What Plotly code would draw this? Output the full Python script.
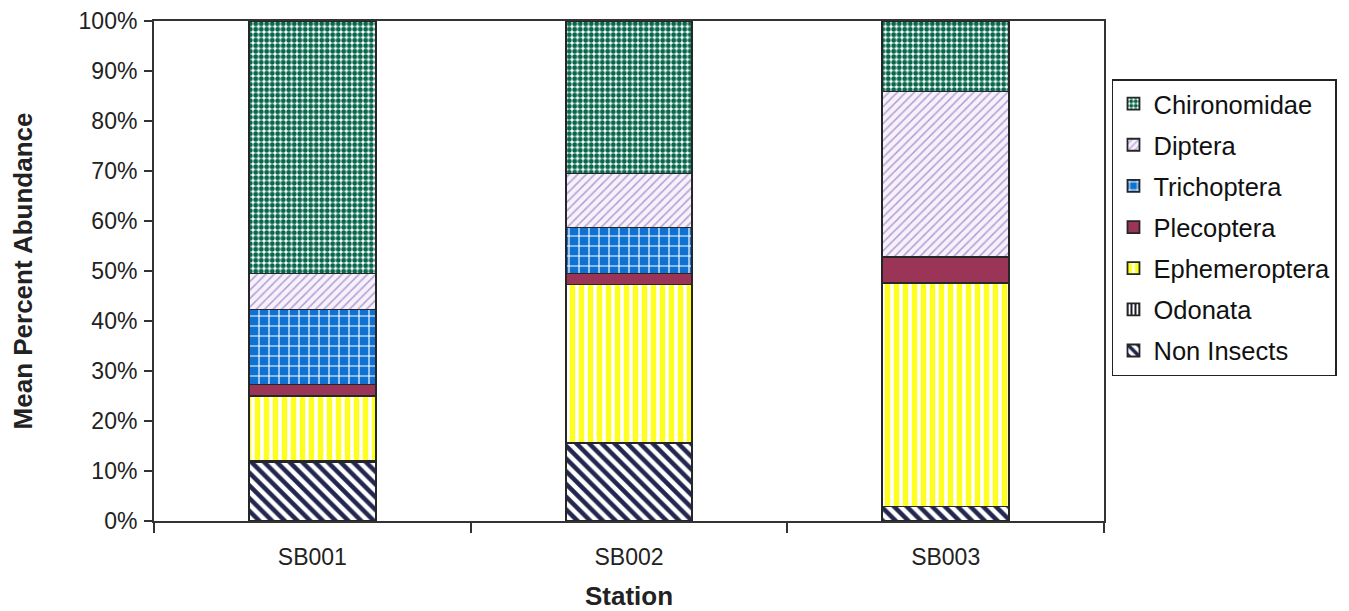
import plotly.graph_objects as go

stations = ["SB001", "SB002", "SB003"]
groups = ["Non Insects", "Odonata", "Ephemeroptera", "Plecoptera", "Trichoptera", "Diptera", "Chironomidae"]
non_insects = [11.8, 15.6, 2.9]
odonata = [0.2, 0.1, 0.0]
ephemeroptera = [13.0, 31.6, 44.7]
plecoptera = [2.3, 2.2, 5.2]
trichoptera = [15.0, 9.2, 0.0]
diptera = [7.2, 10.8, 33.1]
chironomidae = [50.5, 30.5, 14.1]
values = [non_insects, odonata, ephemeroptera, plecoptera, trichoptera, diptera, chironomidae]
yticks = list(range(0, 101, 10))

styles = {
    "Non Insects": dict(shape="\\", bgcolor="white", fgcolor="#23264f", size=9, solidity=0.5),
    "Odonata": dict(shape="|", bgcolor="white", fgcolor="#1a1a2a", size=5, solidity=0.5),
    "Ephemeroptera": dict(shape="|", bgcolor="white", fgcolor="#ffff1e", size=9, solidity=0.6),
    "Plecoptera": None,
    "Trichoptera": dict(shape="+", bgcolor="#0f72d3", fgcolor="white", size=10, solidity=0.22),
    "Diptera": dict(shape="/", bgcolor="#f6f1fa", fgcolor="#b29dd3", size=6, solidity=0.25),
    "Chironomidae": dict(shape=".", bgcolor="white", fgcolor="#07674b", size=5.5, solidity=0.62),
}

fig = go.Figure()
n = len(groups)
for i, (name, vals) in enumerate(zip(groups, values)):
    st = styles[name]
    marker = dict(line=dict(color="#262626", width=1.8))
    if st is None:
        marker["color"] = "#9a3557"
    else:
        marker["color"] = st["bgcolor"]
        marker["pattern"] = dict(shape=st["shape"], bgcolor=st["bgcolor"], fgcolor=st["fgcolor"],
                                 size=st["size"], solidity=st["solidity"], fillmode="replace")
    fig.add_trace(go.Bar(x=stations, y=vals, name=name, marker=marker,
                         legendgroup=name, legendrank=n - i))

font_family = "Liberation Sans, Arial, sans-serif"
fig.update_layout(
    width=1341, height=603,
    barmode="stack", bargap=0.6,
    plot_bgcolor="white", paper_bgcolor="white",
    margin=dict(l=146, r=245, t=13, b=90),
    font=dict(family=font_family, color="#222222", size=23),
    showlegend=True,
    legend=dict(
        x=1.0084, y=0.884, xanchor="left", yanchor="top",
        traceorder="grouped", tracegroupgap=5, itemwidth=30,
        bordercolor="#222222", borderwidth=1.5, bgcolor="white",
        font=dict(size=25.5, family=font_family, color="#111111"),
    ),
    xaxis=dict(
        title=dict(text="<b>Station</b>", font=dict(size=26), standoff=29),
        showline=True, linecolor="#333333", linewidth=2, mirror=True,
        ticks="outside", tickson="boundaries", ticklen=10, tickwidth=1.5, tickcolor="#333333",
        ticklabelstandoff=14, automargin=False,
        showgrid=False,
    ),
    yaxis=dict(
        title=dict(text="<b>Mean Percent Abundance</b>", font=dict(size=26), standoff=42),
        range=[0, 100], tickvals=yticks, ticktext=[f"{v}%" for v in yticks],
        showline=True, linecolor="#333333", linewidth=2, mirror=True,
        ticks="outside", ticklen=8, tickwidth=1.5, tickcolor="#333333",
        ticklabelstandoff=2, automargin=False,
        showgrid=False, zeroline=False,
    ),
)

fig.write_html("out.html")
